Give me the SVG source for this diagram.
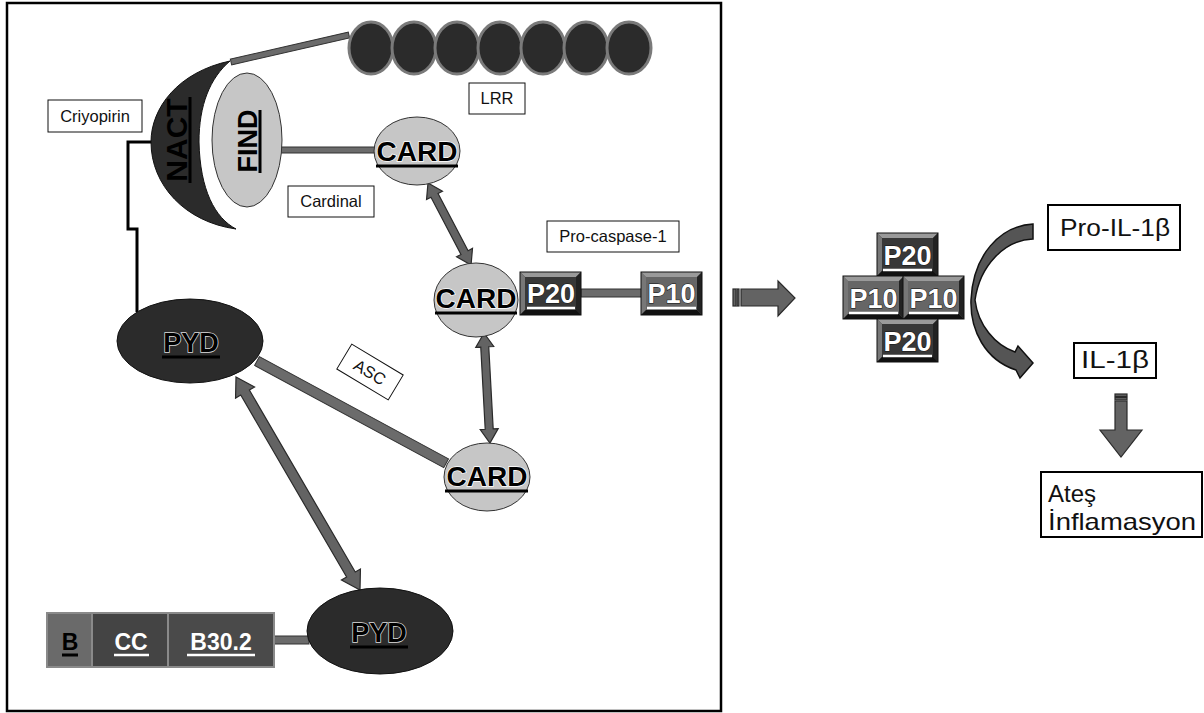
<svg xmlns="http://www.w3.org/2000/svg" xmlns:xlink="http://www.w3.org/1999/xlink" width="1204" height="713" viewBox="0 0 1204 713">
<style>
.lbl{font-family:"Liberation Sans",Arial,sans-serif;font-size:16.5px;fill:#111;text-anchor:middle}
.lbox{fill:#fff;stroke:#111;stroke-width:1}
.rbox{fill:#fff;stroke:#000;stroke-width:2}
.rtxt{font-family:"Liberation Sans",Arial,sans-serif;font-size:24px;fill:#111}
.bar{fill:#6b6b6b;stroke:#333;stroke-width:1}
.arr{fill:#636363;stroke:#2a2a2a;stroke-width:1.2}
.card{fill:#c6c6c6;stroke:#333;stroke-width:1}
.pyd{fill:#2b2b2b;stroke:#111;stroke-width:1}
.ct{font-family:"Liberation Sans",Arial,sans-serif;font-weight:bold;font-size:28px;fill:#000;stroke:#fff;stroke-width:1.5;paint-order:stroke;text-anchor:middle}
.pydt{font-family:"Liberation Sans",Arial,sans-serif;font-weight:bold;font-size:27px;fill:#000;stroke:#ddd;stroke-width:1.5;paint-order:stroke;text-anchor:middle}
.pt{font-family:"Liberation Sans",Arial,sans-serif;font-weight:bold;font-size:27px;fill:#fff;stroke:#111;stroke-width:1;paint-order:stroke;text-anchor:middle}
.bt{font-family:"Liberation Sans",Arial,sans-serif;font-weight:bold;font-size:23px;text-anchor:middle}
.ulk{stroke:#000;stroke-width:3}
.ulw{stroke:#fff;stroke-width:2.5}
.lrr{fill:#2b2b2b;stroke:#7a7a7a;stroke-width:3}
</style>
<defs>
<g id="bevel">
<polygon points="0,0 61,0 56,5 5,5" fill="#9a9a9a"/>
<polygon points="0,0 5,5 5,38 0,43" fill="#777"/>
<polygon points="61,0 61,43 56,38 56,5" fill="#222"/>
<polygon points="0,43 5,38 56,38 61,43" fill="#111"/>
<rect x="0" y="0" width="61" height="43" fill="none" stroke="#111" stroke-width="1"/>
</g>
</defs>

<rect x="7" y="3" width="714" height="708" fill="#fff" stroke="#000" stroke-width="2.5"/>

<g id="connectors">
<polyline points="153,142 128,142 128,229 137,229 137,312" fill="none" stroke="#000" stroke-width="3"/>
<rect class="bar" x="0" y="-3" width="121" height="6" transform="translate(231,62) rotate(-12.9)"/>
<rect class="bar" x="281" y="147" width="96" height="6"/>
<rect class="bar" x="581" y="289" width="61" height="8"/>
<rect class="bar" x="0" y="-5" width="215" height="10" transform="translate(257,361) rotate(28.4)"/>
<rect class="bar" x="273" y="636" width="36" height="8"/>
<path class="arr" transform="translate(428,183) rotate(62.3)" d="M0,0 L14,-9 L14,-4 L78.6,-4 L78.6,-9 L92.6,0 L78.6,9 L78.6,4 L14,4 L14,9 Z"/>
<path class="arr" transform="translate(484,333) rotate(86.9)" d="M0,0 L14,-9 L14,-4 L96.2,-4 L96.2,-9 L110.2,0 L96.2,9 L96.2,4 L14,4 L14,9 Z"/>
<path class="arr" transform="translate(236,377) rotate(59.8)" d="M0,0 L18,-11 L18,-5 L228.5,-5 L228.5,-11 L246.5,0 L228.5,11 L228.5,5 L18,5 L18,11 Z"/>
<rect class="arr" x="733" y="289" width="3" height="17"/>
<rect class="arr" x="737" y="289" width="2" height="17"/>
<path class="arr" d="M741,289 L778,289 L778,281 L795,298 L778,316 L778,306 L741,306 Z"/>
<path fill="#555" stroke="#111" stroke-width="1.5" d="M1033,224 C1000,226 973,255 971,300 C970,330 985,360 1016,370 L1020,378 L1033,363 L1018,346 L1015,352 C995,345 978,325 975,300 C980,265 1005,240 1033,239 Z"/>
<rect class="arr" x="1115" y="394" width="12" height="2.5"/>
<rect class="arr" x="1115" y="397.5" width="12" height="2.5"/>
<path class="arr" d="M1115,401 L1127,401 L1127,430 L1142,430 L1121,457 L1100,430 L1115,430 Z"/>
</g>

<g id="lrr">
<ellipse class="lrr" cx="371" cy="48" rx="22" ry="26"/>
<ellipse class="lrr" cx="414" cy="48" rx="22" ry="26"/>
<ellipse class="lrr" cx="457" cy="48" rx="22" ry="26"/>
<ellipse class="lrr" cx="500" cy="48" rx="22" ry="26"/>
<ellipse class="lrr" cx="543" cy="48" rx="22" ry="26"/>
<ellipse class="lrr" cx="586" cy="48" rx="22" ry="26"/>
<ellipse class="lrr" cx="629" cy="48" rx="22" ry="26"/>
</g>

<g id="nact">
<path fill="#2b2b2b" stroke="#111" stroke-width="1" d="M230,61 C178,72 151,108 151,142 C151,185 185,222 236,229 C215,218 200,190 199,142 C199,105 210,78 230,61 Z"/>
<text transform="translate(187,140) rotate(-90)" x="0" y="0" font-family="Liberation Sans, Arial, sans-serif" font-weight="bold" font-size="30" fill="#000" text-anchor="middle">NACT</text>
<line class="ulk" x1="190" y1="97" x2="190" y2="183"/>
</g>

<g id="find">
<ellipse class="card" cx="247" cy="140" rx="35" ry="67"/>
<text transform="translate(257,141) rotate(-90)" x="0" y="0" font-family="Liberation Sans, Arial, sans-serif" font-weight="bold" font-size="27" fill="#000" text-anchor="middle">FIND</text>
<line class="ulk" x1="260" y1="110" x2="260" y2="173"/>
</g>

<g id="card-top">
<ellipse class="card" cx="417" cy="151" rx="43" ry="34"/>
<text class="ct" x="417" y="161">CARD</text>
<line class="ulk" x1="376" y1="166" x2="458" y2="166"/>
</g>

<g id="card-mid">
<ellipse class="card" cx="476" cy="300" rx="42" ry="37"/>
<text class="ct" x="476" y="308">CARD</text>
<line class="ulk" x1="435" y1="313" x2="517" y2="313"/>
</g>

<g id="card-bottom">
<ellipse class="card" cx="487" cy="477" rx="43" ry="34"/>
<text class="ct" x="487" y="486">CARD</text>
<line class="ulk" x1="445" y1="491" x2="528" y2="491"/>
</g>

<g id="p20">
<rect x="520" y="272" width="61" height="43" fill="#383838"/>
<use xlink:href="#bevel" href="#bevel" x="520" y="272"/>
<text class="pt" x="551" y="303">P20</text>
<line class="ulw" x1="527" y1="308" x2="575" y2="308"/>
</g>

<g id="p10">
<rect x="641" y="272" width="61" height="43" fill="#666"/>
<use xlink:href="#bevel" href="#bevel" x="641" y="272"/>
<text class="pt" x="671.5" y="303">P10</text>
<line class="ulw" x1="647" y1="308" x2="696" y2="308"/>
</g>

<g id="pyd-top">
<ellipse class="pyd" cx="190" cy="341" rx="73" ry="42"/>
<text class="pydt" x="191" y="352">PYD</text>
<line class="ulk" x1="162" y1="357" x2="220" y2="357"/>
</g>

<g id="pyd-bottom">
<ellipse class="pyd" cx="380" cy="631" rx="73" ry="43"/>
<text class="pydt" x="379" y="642">PYD</text>
<line class="ulk" x1="350" y1="647" x2="408" y2="647"/>
</g>

<g id="pyrin-domains">
<rect x="47" y="613" width="45" height="54" fill="#6a6a6a" stroke="#8a8a8a" stroke-width="2"/>
<rect x="92" y="613" width="76" height="54" fill="#444" stroke="#8a8a8a" stroke-width="2"/>
<rect x="168" y="613" width="106" height="54" fill="#4a4a4a" stroke="#8a8a8a" stroke-width="2"/>
<text class="bt" x="70" y="650" fill="#000">B</text>
<line class="ulk" x1="62" y1="655" x2="78" y2="655"/>
<text class="bt" x="131" y="650" fill="#fff">CC</text>
<line class="ulw" x1="114" y1="655" x2="149" y2="655"/>
<text class="bt" x="221" y="650" fill="#fff">B30.2</text>
<line class="ulw" x1="187" y1="655" x2="255" y2="655"/>
</g>

<g id="label-criyopirin"><rect class="lbox" x="48" y="100" width="94" height="32"/><text class="lbl" x="95" y="122">Criyopirin</text></g>
<g id="label-cardinal"><rect class="lbox" x="288" y="186" width="86" height="31"/><text class="lbl" x="331" y="207">Cardinal</text></g>
<g id="label-lrr"><rect class="lbox" x="469" y="83" width="56" height="31"/><text class="lbl" x="497" y="104">LRR</text></g>
<g id="label-procaspase"><rect class="lbox" x="547" y="221" width="132" height="31"/><text class="lbl" x="613" y="242">Pro-caspase-1</text></g>
<g id="label-asc" transform="translate(370,372) rotate(31)"><rect class="lbox" x="-30" y="-14.5" width="60" height="29"/><text class="lbl" x="0" y="6">ASC</text></g>

<g id="caspase-active">
<rect x="877" y="233" width="61" height="43" fill="#383838"/>
<use xlink:href="#bevel" href="#bevel" x="877" y="233"/>
<text class="pt" x="907.5" y="265">P20</text>
<line class="ulw" x1="883" y1="270" x2="932" y2="270"/>
<rect x="843" y="276" width="61" height="43" fill="#666"/>
<use xlink:href="#bevel" href="#bevel" x="843" y="276"/>
<text class="pt" x="873.5" y="308">P10</text>
<line class="ulw" x1="849" y1="313" x2="898" y2="313"/>
<rect x="903" y="276" width="61" height="43" fill="#666"/>
<use xlink:href="#bevel" href="#bevel" x="903" y="276"/>
<text class="pt" x="933.5" y="308">P10</text>
<line class="ulw" x1="909" y1="313" x2="958" y2="313"/>
<rect x="877" y="319" width="61" height="43" fill="#383838"/>
<use xlink:href="#bevel" href="#bevel" x="877" y="319"/>
<text class="pt" x="907.5" y="351">P20</text>
<line class="ulw" x1="883" y1="356" x2="932" y2="356"/>
</g>

<g id="pro-il1b"><rect class="rbox" x="1048" y="205" width="132" height="45"/><text class="rtxt" x="1060" y="236" textLength="110" lengthAdjust="spacingAndGlyphs">Pro-IL-1β</text></g>
<g id="il1b"><rect class="rbox" x="1074" y="343" width="82" height="35"/><text class="rtxt" x="1081" y="368" textLength="68" lengthAdjust="spacingAndGlyphs">IL-1β</text></g>
<g id="outcome"><rect class="rbox" x="1041" y="472" width="161" height="65"/><text class="rtxt" x="1048" y="502" font-size="25">Ateş</text><text class="rtxt" x="1048" y="530" font-size="25" textLength="148" lengthAdjust="spacingAndGlyphs">İnflamasyon</text></g>
</svg>
